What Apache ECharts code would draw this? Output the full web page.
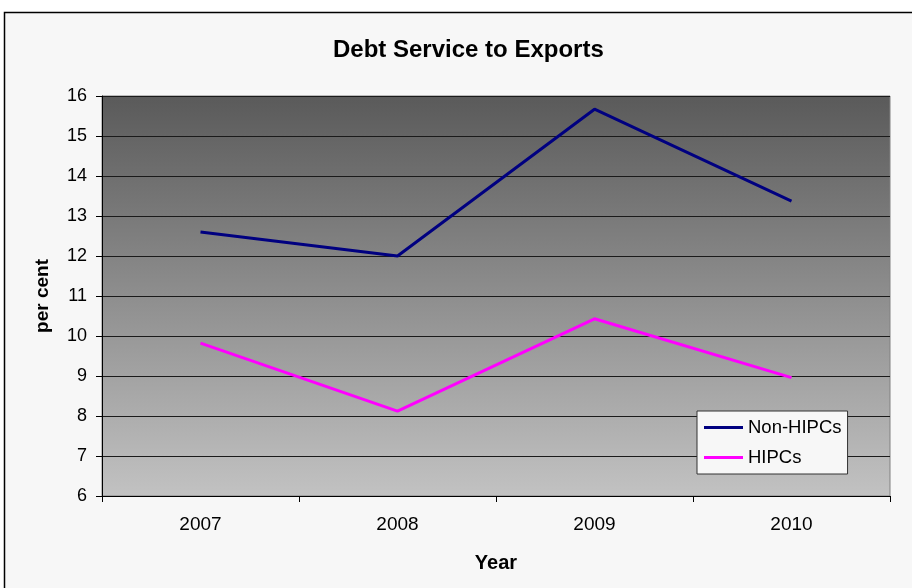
<!DOCTYPE html>
<html>
<head>
<meta charset="utf-8">
<script src="https://cdn.jsdelivr.net/npm/echarts@6/dist/echarts.min.js"></script>
<style>
html,body{margin:0;padding:0;background:#fff;}
#c{width:912px;height:588px;}
</style>
</head>
<body>
<div id="c"></div>
<script>
var years = ['2007', '2008', '2009', '2010'];
var nonHIPCs = [12.6, 12.0, 15.67, 13.37];
var hipcs = [9.82, 8.12, 10.43, 8.96];

var chart = echarts.init(document.getElementById('c'));
var font = '"Liberation Sans", Arial, sans-serif';
chart.setOption({
  backgroundColor: '#ffffff',
  animation: false,
  graphic: [{
    type: 'rect', z: -10, silent: true,
    shape: {x: 4.5, y: 12.5, width: 920, height: 600},
    style: {fill: '#f7f7f7', stroke: '#000', lineWidth: 1.5}
  }],
  title: {
    text: 'Debt Service to Exports',
    left: 328, top: 33,
    textStyle: {fontFamily: font, fontSize: 24, fontWeight: 'bold', color: '#000'}
  },
  grid: {
    left: 102, right: 22, top: 96, bottom: 92,
    show: true,
    borderColor: '#808080', borderWidth: 1,
    backgroundColor: {
      type: 'linear', x: 0, y: 0, x2: 0, y2: 1,
      colorStops: [{offset: 0, color: '#5a5a5a'}, {offset: 1, color: '#c2c2c2'}]
    }
  },
  legend: {
    orient: 'vertical',
    left: 697, top: 411,
    itemWidth: 39, itemHeight: 3, itemGap: 11,
    padding: [7, 6, 7, 7],
    backgroundColor: '#f7f7f7', borderColor: '#333', borderWidth: 1,
    borderRadius: 0,
    icon: 'rect',
    textStyle: {fontFamily: font, fontSize: 18.5, color: '#000', padding: [0, 0, 0, 0]},
    data: ['Non-HIPCs', 'HIPCs']
  },
  xAxis: {
    type: 'category',
    data: years,
    boundaryGap: true,
    name: 'Year', nameLocation: 'middle', nameGap: 57,
    nameTextStyle: {fontFamily: font, fontSize: 20, fontWeight: 'bold', color: '#000'},
    axisLine: {lineStyle: {color: '#000', width: 1}},
    axisTick: {show: true, length: 6, lineStyle: {color: '#000'}},
    axisLabel: {fontFamily: font, fontSize: 19, color: '#000', margin: 19},
    splitLine: {show: false}
  },
  yAxis: {
    type: 'value',
    min: 6, max: 16, interval: 1,
    name: 'per cent', nameLocation: 'middle', nameGap: 50, nameRotate: 90,
    nameTextStyle: {fontFamily: font, fontSize: 19, fontWeight: 'bold', color: '#000'},
    axisLine: {show: true, lineStyle: {color: '#000', width: 1}},
    axisTick: {show: true, length: 6, lineStyle: {color: '#000'}},
    axisLabel: {fontFamily: font, fontSize: 18, color: '#000', margin: 15},
    splitLine: {show: true, lineStyle: {color: '#1a1a1a', width: 1}}
  },
  series: [
    {
      name: 'Non-HIPCs', type: 'line', data: nonHIPCs,
      symbol: 'none', lineStyle: {color: '#000080', width: 3},
      itemStyle: {color: '#000080'}
    },
    {
      name: 'HIPCs', type: 'line', data: hipcs,
      symbol: 'none', lineStyle: {color: '#ff00ff', width: 3},
      itemStyle: {color: '#ff00ff'}
    }
  ]
});
</script>
</body>
</html>
